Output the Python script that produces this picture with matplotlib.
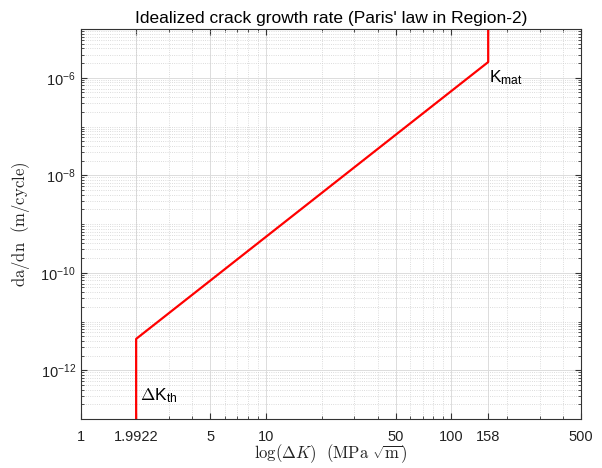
import matplotlib
matplotlib.use('Agg')
import matplotlib.pyplot as plt
from matplotlib.ticker import FixedLocator, NullFormatter, LogLocator

plt.rcParams['font.family'] = ['Liberation Sans', 'DejaVu Sans']
plt.rcParams['mathtext.fontset'] = 'cm'

# knee points of the idealized curve
dk = [1.9922, 1.9922, 158, 158]
dadn = [1e-13, 4.4e-12, 2.1e-6, 1e-5]
xticks = [1, 1.9922, 5, 10, 50, 100, 158, 500]
xticklabels = ['1', '1.9922', '5', '10', '50', '100', '158', '500']
yticks = [1e-12, 1e-10, 1e-8, 1e-6]

fig = plt.figure(figsize=(6.02, 4.68), dpi=100)
ax = fig.add_axes([0.134, 0.1047, 0.831, 0.8333])
ax.plot(dk, dadn, color='red', lw=1.6)
ax.set_xscale('log')
ax.set_yscale('log')
ax.set_xlim(1, 500)
ax.set_ylim(1e-13, 1e-5)

ax.xaxis.set_major_locator(FixedLocator(xticks))
ax.set_xticklabels(xticklabels)
ax.xaxis.set_minor_locator(LogLocator(base=10, subs=range(2, 10)))
ax.xaxis.set_minor_formatter(NullFormatter())
ax.yaxis.set_major_locator(FixedLocator(yticks))
ax.yaxis.set_minor_locator(LogLocator(base=10, subs=range(1, 10), numticks=30))
ax.yaxis.set_minor_formatter(NullFormatter())

ax.grid(True, which='major', color='#dcdcdc', lw=0.7)
ax.grid(True, which='minor', color='#d0d0d0', lw=0.6, ls=':')
ax.tick_params(which='both', direction='in', top=True, right=True, labelsize=10.5,
               color='#333333', labelcolor='#222222')
ax.tick_params(which='major', length=4)
ax.tick_params(which='minor', length=2)
ax.tick_params(axis='x', pad=8)
for s in ax.spines.values():
    s.set_color('#333333')
    s.set_linewidth(0.8)

ax.text(2.1, 2.4e-13, r'$\Delta\mathregular{K_{th}}$', fontsize=12.5)
ax.text(160, 8.2e-7, r'$\mathregular{K_{mat}}$', fontsize=12.5)

ax.set_title("Idealized crack growth rate (Paris' law in Region-2)", fontsize=12.5, pad=4)
ax.set_xlabel(r'$\log(\Delta K)\ \ (\mathrm{MPa}\ \sqrt{\mathrm{m}})$', fontsize=12, labelpad=-1, color='#222222')
ax.set_ylabel(r'$\mathrm{da/dn\ \ (m/cycle)}$', fontsize=12, labelpad=6, color='#222222')

fig.savefig('out.png', dpi=100)
